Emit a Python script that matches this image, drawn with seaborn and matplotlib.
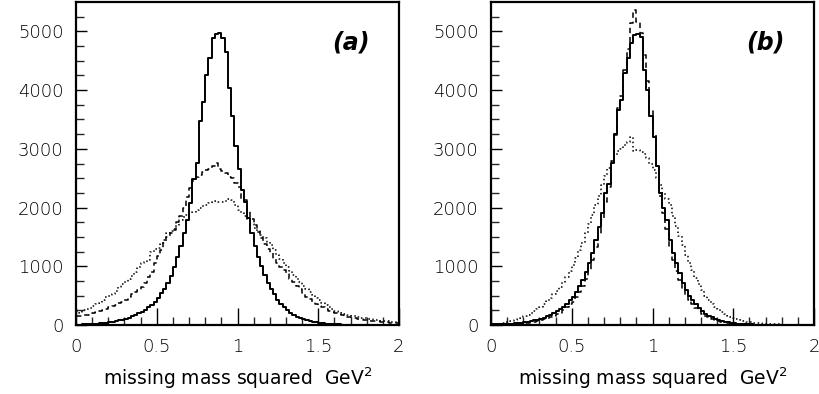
import numpy as np
import pandas as pd
import matplotlib
matplotlib.use("Agg")
import matplotlib.pyplot as plt
import seaborn as sns

# ---- data: 100 bins of width 0.02 from 0 to 2 (bin contents) ----
bin_edges = [round(0.02 * k, 2) for k in range(101)]

solid_a = [5, 7, 9, 12, 15, 18, 22, 27, 33, 40,
           48, 57, 66, 78, 92, 108, 126, 148, 170, 198,
           228, 262, 300, 345, 400, 460, 540, 620, 720, 840,
           980, 1150, 1340, 1560, 1790, 2080, 2480, 2760, 3480, 3790,
           4250, 4540, 4890, 4950, 4970, 4880, 4650, 4040, 3560, 3050,
           2650, 2300, 2100, 1830, 1560, 1350, 1150, 1000, 850, 720,
           620, 520, 430, 360, 300, 250, 205, 170, 140, 115,
           95, 78, 64, 52, 43, 35, 29, 24, 19, 16,
           13, 10, 8, 7, 5, 4, 4, 3, 2, 2,
           2, 1, 1, 1, 1, 0, 0, 0, 0, 0]

dashed_a = [160, 150, 170, 165, 180, 200, 215, 230, 250, 280,
            300, 320, 345, 380, 400, 430, 470, 530, 560, 600,
            640, 720, 820, 900, 1050, 1180, 1270, 1400, 1500, 1560,
            1620, 1750, 1850, 2000, 2180, 2330, 2460, 2520, 2560, 2600,
            2640, 2650, 2700, 2760, 2650, 2620, 2580, 2520, 2500, 2420,
            2350, 2150, 2120, 1960, 1800, 1700, 1580, 1480, 1380, 1300,
            1230, 1130, 1050, 990, 940, 860, 790, 740, 660, 610,
            540, 480, 440, 400, 360, 330, 300, 270, 240, 220,
            200, 185, 170, 150, 140, 125, 115, 105, 95, 85,
            80, 70, 65, 60, 55, 50, 45, 40, 38, 35]

dotted_a = [230, 210, 250, 270, 290, 320, 350, 380, 430, 470,
            500, 520, 580, 650, 700, 740, 780, 830, 900, 980,
            1060, 1080, 1100, 1250, 1290, 1310, 1380, 1450, 1560, 1600,
            1640, 1710, 1780, 1840, 1880, 1900, 1930, 1960, 1990, 2030,
            2050, 2080, 2100, 2110, 2100, 2090, 2110, 2150, 2120, 2040,
            1960, 1900, 1850, 1800, 1720, 1660, 1600, 1540, 1480, 1420,
            1360, 1280, 1200, 1130, 1050, 990, 920, 850, 790, 730,
            670, 610, 560, 510, 460, 420, 380, 340, 300, 270,
            240, 220, 200, 185, 175, 160, 150, 140, 125, 115,
            105, 95, 90, 80, 72, 65, 60, 52, 45, 40]

solid_b = [10, 12, 14, 15, 18, 20, 25, 30, 35, 42,
           50, 58, 68, 80, 92, 108, 125, 145, 170, 200,
           230, 265, 310, 360, 420, 480, 560, 660, 770, 900,
           1060, 1220, 1450, 1670, 1900, 2240, 2400, 2760, 3260, 3660,
           3830, 4290, 4540, 4800, 4940, 4960, 4900, 4340, 4000, 3560,
           3200, 2700, 2240, 2000, 1790, 1450, 1220, 1050, 880, 710,
           600, 500, 420, 350, 290, 240, 195, 160, 130, 105,
           85, 70, 55, 45, 36, 30, 24, 20, 16, 13,
           10, 8, 7, 6, 5, 4, 3, 3, 2, 2,
           2, 1, 1, 1, 1, 0, 0, 0, 0, 0]

dashed_b = [5, 6, 8, 10, 12, 14, 18, 22, 26, 30,
            36, 42, 50, 58, 68, 80, 95, 110, 130, 155,
            180, 210, 250, 300, 350, 400, 470, 560, 660, 780,
            930, 1100, 1320, 1540, 1780, 2100, 2350, 2800, 3240, 3700,
            3900, 4350, 4700, 5150, 5360, 5160, 4980, 4600, 4150, 3650,
            3250, 2700, 2200, 1900, 1640, 1320, 1100, 920, 760, 620,
            510, 420, 350, 290, 240, 195, 160, 130, 105, 85,
            68, 55, 45, 36, 30, 24, 19, 15, 12, 10,
            8, 6, 5, 4, 3, 3, 2, 2, 1, 1,
            1, 1, 0, 0, 0, 0, 0, 0, 0, 0]

dotted_b = [15, 20, 25, 35, 45, 55, 70, 85, 105, 125,
            150, 175, 205, 240, 275, 315, 360, 410, 460, 520,
            580, 650, 730, 820, 920, 1030, 1140, 1270, 1400, 1560,
            1720, 1880, 2050, 2200, 2380, 2540, 2680, 2800, 2900, 2960,
            3000, 3060, 3120, 3200, 2960, 2980, 2950, 2920, 2850, 2740,
            2640, 2500, 2380, 2240, 2150, 2040, 1850, 1680, 1520, 1360,
            1200, 1060, 930, 800, 690, 590, 500, 420, 360, 310,
            265, 225, 190, 160, 135, 115, 95, 80, 68, 57,
            48, 40, 34, 28, 23, 19, 16, 13, 11, 9,
            7, 6, 5, 4, 3, 3, 2, 2, 1, 1]

panel_labels = ["(a)", "(b)"]
x_ticks = [0, 0.5, 1, 1.5, 2]
x_tick_labels = ["0", "0.5", "1", "1.5", "2"]
y_ticks = [0, 1000, 2000, 3000, 4000, 5000]
y_tick_labels = ["0", "1000", "2000", "3000", "4000", "5000"]
xlabel = "missing mass squared  GeV$^{2}$"

# ---- build tidy frame ----
edges = list(bin_edges)
centers = [(edges[k] + edges[k + 1]) / 2 for k in range(len(edges) - 1)]
rows = []
for panel, series in [("a", {"solid": solid_a, "dashed": dashed_a, "dotted": dotted_a}),
                      ("b", {"solid": solid_b, "dashed": dashed_b, "dotted": dotted_b})]:
    for name, vals in series.items():
        for c, v in zip(centers, vals):
            rows.append({"panel": panel, "series": name, "x": c, "count": float(v)})
df = pd.DataFrame(rows)

sns.set_theme(style="white")
plt.rcParams["font.family"] = ["DejaVu Sans"]
plt.rcParams["mathtext.fontset"] = "dejavusans"

fig = plt.figure(figsize=(8.19, 3.94), dpi=100)
ax_a = fig.add_axes([76 / 819, 1 - 325 / 394, 323 / 819, 323 / 394])
ax_b = fig.add_axes([491 / 819, 1 - 325 / 394, 323 / 819, 323 / 394])

styles = {
    "dotted": dict(linestyle=(0, (1.0, 1.8)), linewidth=1.1),
    "dashed": dict(linestyle=(0, (3.5, 2.5)), linewidth=1.1),
    "solid": dict(linestyle="-", linewidth=1.4),
}

for ax, panel, lab in [(ax_a, "a", panel_labels[0]), (ax_b, "b", panel_labels[1])]:
    for name in ["dotted", "dashed", "solid"]:
        sub = df[(df["panel"] == panel) & (df["series"] == name)].reset_index(drop=True)
        sns.histplot(data=sub, x="x", weights="count", bins=edges,
                     element="step", fill=False, color="black", ax=ax,
                     **styles[name])
    ax.set_xlim(0, 2)
    ax.set_ylim(0, 5500)
    ax.set_xticks(x_ticks)
    ax.set_xticklabels(x_tick_labels, fontweight="light")
    ax.set_yticks(y_ticks)
    ax.set_yticklabels(y_tick_labels, fontweight="light")
    ax.set_xticks(np.arange(0, 2.0001, 0.1), minor=True)
    ax.set_yticks(np.arange(0, 5500, 250), minor=True)
    ax.tick_params(axis="x", which="major", direction="in", length=12, width=1.0,
                   pad=9, labelsize=13, colors="black", bottom=True, top=False)
    ax.tick_params(axis="x", which="minor", direction="in", length=6, width=1.0,
                   bottom=True, top=False)
    ax.tick_params(axis="y", which="major", direction="in", length=8, width=1.0,
                   pad=9, labelsize=13, colors="black", left=True, right=False)
    ax.tick_params(axis="y", which="minor", direction="in", length=6, width=1.0,
                   left=True, right=False)
    for sp in ax.spines.values():
        sp.set_visible(True)
        sp.set_color("black")
        sp.set_linewidth(1.6)
    ax.set_xlabel(xlabel, fontsize=13.5, color="black", labelpad=7)
    ax.set_ylabel("")
    ax.text(0.85, 0.876, lab, transform=ax.transAxes, ha="center", va="center",
            fontsize=17, fontweight="bold", fontstyle="italic", color="black")

fig.savefig("out.png", dpi=100)
